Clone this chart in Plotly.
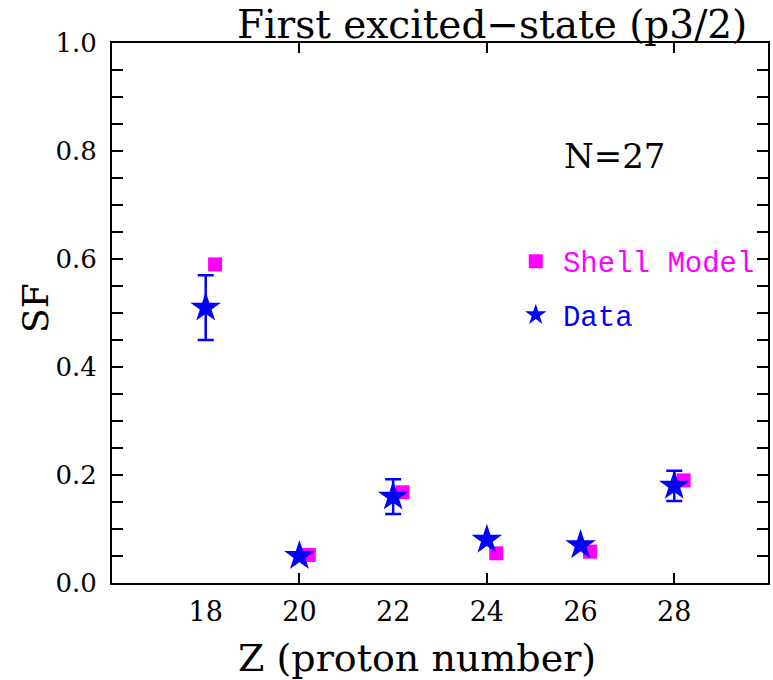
import plotly.graph_objects as go

# ---- data ----
z_model = [18.2, 20.2, 22.2, 24.2, 26.2, 28.2]
sf_model = [0.59, 0.052, 0.168, 0.055, 0.058, 0.19]

z_data = [18, 20, 22, 24, 26, 28]
sf_data = [0.51, 0.05, 0.16, 0.08, 0.07, 0.18]
sf_err = [0.06, None, 0.032, None, None, 0.028]

x_ticks = [18, 20, 22, 24, 26, 28]
x_major_marks = [20, 24, 28]

MAGENTA = "#FF00FF"
BLUE = "#0000FF"
SERIF = "DejaVu Serif"
MONO = "Liberation Mono"
GAP = "<span style='font-size:12px'> </span>"

fig = go.Figure()

fig.add_trace(go.Scatter(
    x=z_model, y=sf_model, mode="markers",
    name=GAP + "<span style='color:#FF00FF'>Shell Model</span>",
    legendgroup="sm",
    marker=dict(symbol="square", size=14, color=MAGENTA, line=dict(width=0)),
))

zi = [z for z, e in zip(z_data, sf_err) if e is not None]
yi = [y for y, e in zip(sf_data, sf_err) if e is not None]
ei = [e for e in sf_err if e is not None]
zn = [z for z, e in zip(z_data, sf_err) if e is None]
yn = [y for y, e in zip(sf_data, sf_err) if e is None]

fig.add_trace(go.Scatter(
    x=zi, y=yi, mode="markers", name="Data", legendgroup="data", showlegend=False,
    marker=dict(symbol="star", size=23, color=BLUE, line=dict(width=0)),
    error_y=dict(type="data", array=ei, visible=True, color=BLUE, thickness=2.5, width=8),
))
fig.add_trace(go.Scatter(
    x=zn, y=yn, mode="markers",
    name=GAP + "<span style='color:#0000FF'>Data</span>", legendgroup="data",
    marker=dict(symbol="star", size=23, color=BLUE, line=dict(width=0)),
))

# carrier trace so the label axis (x2) is drawn; it has no visible marks
fig.add_trace(go.Scatter(
    x=x_ticks, y=[None] * len(x_ticks), xaxis="x2", yaxis="y",
    mode="markers", showlegend=False, hoverinfo="skip",
    marker=dict(opacity=0),
))

fig.update_layout(
    width=773, height=680,
    margin=dict(l=112, r=3, t=43, b=97),
    plot_bgcolor="white", paper_bgcolor="white",
    showlegend=True,
    legend=dict(
        x=(517 - 112) / 658, xanchor="left",
        y=0.643, yanchor="top",
        font=dict(family=MONO, size=29, color="black"),
        tracegroupgap=13,
        bgcolor="rgba(0,0,0,0)",
    ),
    xaxis=dict(
        range=[16, 30], tickmode="array", tickvals=x_major_marks,
        showticklabels=False,
        ticks="inside", ticklen=10, tickwidth=2, tickcolor="black",
        showgrid=False, zeroline=False,
        showline=True, linecolor="black", linewidth=2, mirror="allticks",
    ),
    xaxis2=dict(
        range=[16, 30], overlaying="x", side="bottom", anchor="y",
        tickmode="array", tickvals=x_ticks, ticktext=[str(v) for v in x_ticks],
        ticks="", showgrid=False, zeroline=False, showline=False,
        tickfont=dict(family=SERIF, size=27, color="black"),
        ticklabelstandoff=10,
    ),
    yaxis=dict(
        range=[0, 1], tickmode="linear", tick0=0, dtick=0.2, tickformat=".1f",
        ticks="inside", ticklen=11, tickwidth=2, tickcolor="black",
        showgrid=False, zeroline=False,
        showline=True, linecolor="black", linewidth=2, mirror="allticks",
        tickfont=dict(family=SERIF, size=26, color="black"),
        ticklabelstandoff=8,
        minor=dict(dtick=0.05, ticks="inside", ticklen=6, tickwidth=2, tickcolor="black", showgrid=False),
    ),
    annotations=[
        dict(text="First excited\u2212state (p3/2)", xref="paper", yref="paper",
             x=(493 - 112) / 658, y=1, xanchor="center", yanchor="bottom", yshift=-6,
             showarrow=False, font=dict(family=SERIF, size=39, color="black")),
        dict(text="Z (proton number)", xref="paper", yref="paper",
             x=(418 - 112) / 658, y=0, xanchor="center", yanchor="middle", yshift=-75,
             showarrow=False, font=dict(family=SERIF, size=38, color="black")),
        dict(text="SF", xref="paper", yref="paper", textangle=-90,
             x=0, y=(583 - 308) / 540, xanchor="center", yanchor="middle", xshift=-77,
             showarrow=False, font=dict(family=SERIF, size=36, color="black")),
        dict(text="N=27", xref="x", yref="y", x=26.74, y=0.79,
             xanchor="center", yanchor="middle",
             showarrow=False, font=dict(family=SERIF, size=34, color="black")),
    ],
)

fig.write_html("out.html")
